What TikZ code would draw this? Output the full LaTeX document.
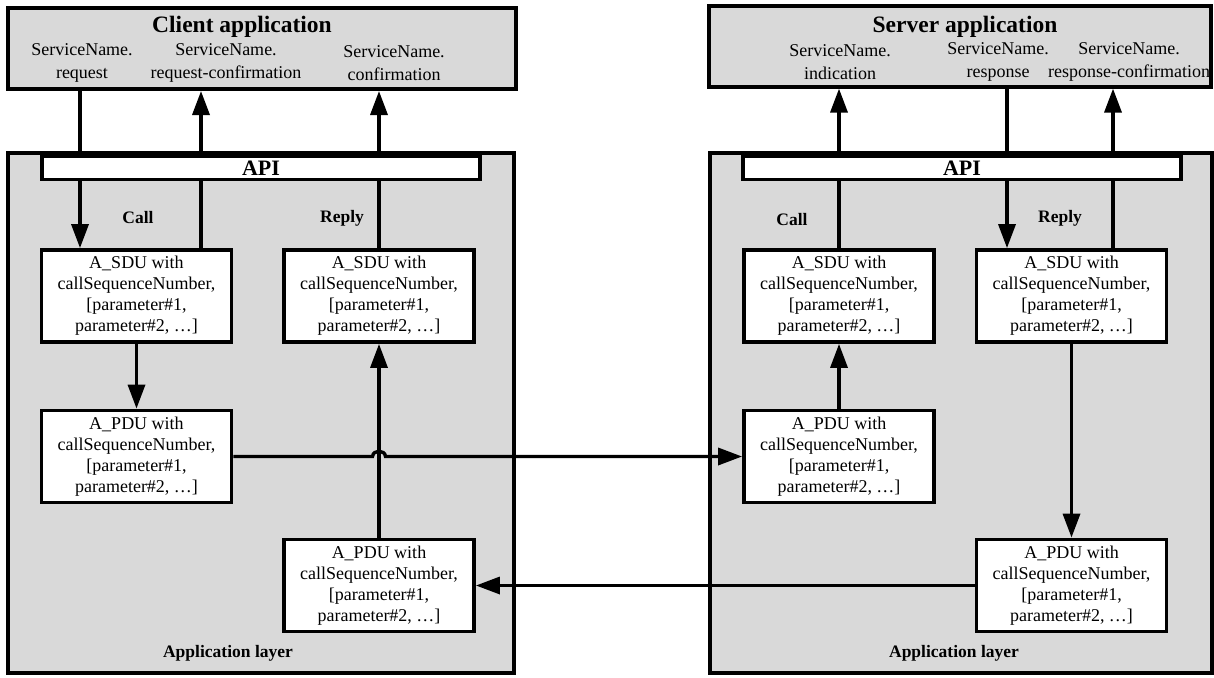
\documentclass[tikz,border=0pt]{standalone}
\usepackage{fontspec}
\setmainfont{Liberation Serif}
\usetikzlibrary{arrows.meta}
\definecolor{laygray}{HTML}{D9D9D9}
\begin{document}
\begin{tikzpicture}[x=1pt,y=-1pt,
  layer/.style={draw, line width=3.8pt, fill=laygray, inner sep=0pt},
  apibar/.style={draw, line width=3.8pt, fill=white, inner sep=0pt, minimum width=438pt, minimum height=23pt, font=\fontsize{22}{24}\selectfont\bfseries},
  pdubox/.style={draw, line width=3.8pt, fill=white, inner sep=0pt, minimum width=190pt, minimum height=92pt, align=center, font=\fontsize{18}{21}\selectfont},
  svc/.style={align=center, inner sep=0pt, font=\fontsize{18}{22.5}\selectfont},
  ttl/.style={inner sep=0pt, font=\fontsize{23.5}{26}\selectfont\bfseries},
  lbl/.style={inner sep=0pt, font=\fontsize{17.5}{19}\selectfont\bfseries},
  conn/.style={line width=3.4pt},
  arr/.style={conn, -{Triangle[length=24pt,width=17pt]}}
]
\useasboundingbox (0,0) rectangle (1214,677);
% layers
\node[layer, minimum width=506pt, minimum height=520pt] (llay) at (261.3,413.3) {};
\node[layer, minimum width=502pt, minimum height=520pt] (rlay) at (961,413.3) {};
% application boxes
\node[layer, minimum width=508pt, minimum height=81pt] (capp) at (262,48.6) {};
\node[layer, minimum width=502pt, minimum height=81pt] (sapp) at (960,46.2) {};
% titles
\node[ttl] (ctitle) at (242,27) {Client application};
\node[ttl] (stitle) at (965,27) {Server application};
% service labels
\node[svc] (lreq) at (82,63) {ServiceName.\\request};
\node[svc] (lrc) at (226,63) {ServiceName.\\request-confirmation};
\node[svc] (lconf) at (394,63) {ServiceName.\\confirmation};
\node[svc] (rind) at (840,62) {ServiceName.\\indication};
\node[svc] (rresp) at (998,62) {ServiceName.\\response};
\node[svc] (rrc) at (1129,62) {ServiceName.\\response-confirmation};
% API bars
\node[apibar] (lapi) at (261,168) {API};
\node[apibar] (rapi) at (962,168) {API};
% boxes
\node[pdubox] (lsc) at (136.5,296) {A\_SDU with\\callSequenceNumber,\\{[}parameter\#1,\\parameter\#2, …{]}};
\node[pdubox] (lsr) at (379,296) {A\_SDU with\\callSequenceNumber,\\{[}parameter\#1,\\parameter\#2, …{]}};
\node[pdubox] (lpc) at (136.5,456.5) {A\_PDU with\\callSequenceNumber,\\{[}parameter\#1,\\parameter\#2, …{]}};
\node[pdubox] (lpr) at (379,585.5) {A\_PDU with\\callSequenceNumber,\\{[}parameter\#1,\\parameter\#2, …{]}};
\node[pdubox] (rsc) at (839,296) {A\_SDU with\\callSequenceNumber,\\{[}parameter\#1,\\parameter\#2, …{]}};
\node[pdubox] (rsr) at (1071.5,296) {A\_SDU with\\callSequenceNumber,\\{[}parameter\#1,\\parameter\#2, …{]}};
\node[pdubox] (rpc) at (839,456.5) {A\_PDU with\\callSequenceNumber,\\{[}parameter\#1,\\parameter\#2, …{]}};
\node[pdubox] (rpr) at (1071.5,585.5) {A\_PDU with\\callSequenceNumber,\\{[}parameter\#1,\\parameter\#2, …{]}};
% labels
\node[lbl] (lcall) at (138,218) {Call};
\node[lbl] (lreply) at (342,218) {Reply};
\node[lbl] (rcall) at (792,220) {Call};
\node[lbl] (rreply) at (1060,218) {Reply};
\node[lbl] (llayl) at (228,653) {Application layer};
\node[lbl] (rlayl) at (954,653) {Application layer};
% x positions
\coordinate (xreq) at (80,0);
\coordinate (xrc) at (201,0);
\coordinate (xresp) at (1007,0);
\coordinate (xrsc) at (1113,0);
% client side API connectors
\draw[conn] (capp.south -| xreq) -- (lapi.north -| xreq);
\draw[arr] (lapi.south -| xreq) -- (lsc.north -| xreq);
\draw[conn] (lsc.north -| xrc) -- (lapi.south -| xrc);
\draw[arr] (lapi.north -| xrc) -- (capp.south -| xrc);
\draw[conn] (lsr.north) -- (lapi.south -| lsr.north);
\draw[arr] (lapi.north -| lsr.north) -- (capp.south -| lsr.north);
% server side API connectors
\draw[conn] (rsc.north) -- (rapi.south -| rsc.north);
\draw[arr] (rapi.north -| rsc.north) -- (sapp.south -| rsc.north);
\draw[conn] (sapp.south -| xresp) -- (rapi.north -| xresp);
\draw[arr] (rapi.south -| xresp) -- (rsr.north -| xresp);
\draw[conn] (rsr.north -| xrsc) -- (rapi.south -| xrsc);
\draw[arr] (rapi.north -| xrsc) -- (sapp.south -| xrsc);
% layer connectors
\draw[arr] (lsc.south) -- (lpc.north);
\draw[arr] (lpr.north) -- (lsr.south);
\draw[arr] (rpc.north) -- (rsc.south);
\draw[arr] (rsr.south) -- (rpr.north);
\coordinate (hopa) at (372.5,456.5);
\coordinate (hopb) at (385.5,456.5);
\draw[arr] (lpc.east) -- (hopa) .. controls (373,449.5) and (385,449.5) .. (hopb) -- (rpc.west);
\draw[arr] (rpr.west) -- (lpr.east);
\end{tikzpicture}
\end{document}
